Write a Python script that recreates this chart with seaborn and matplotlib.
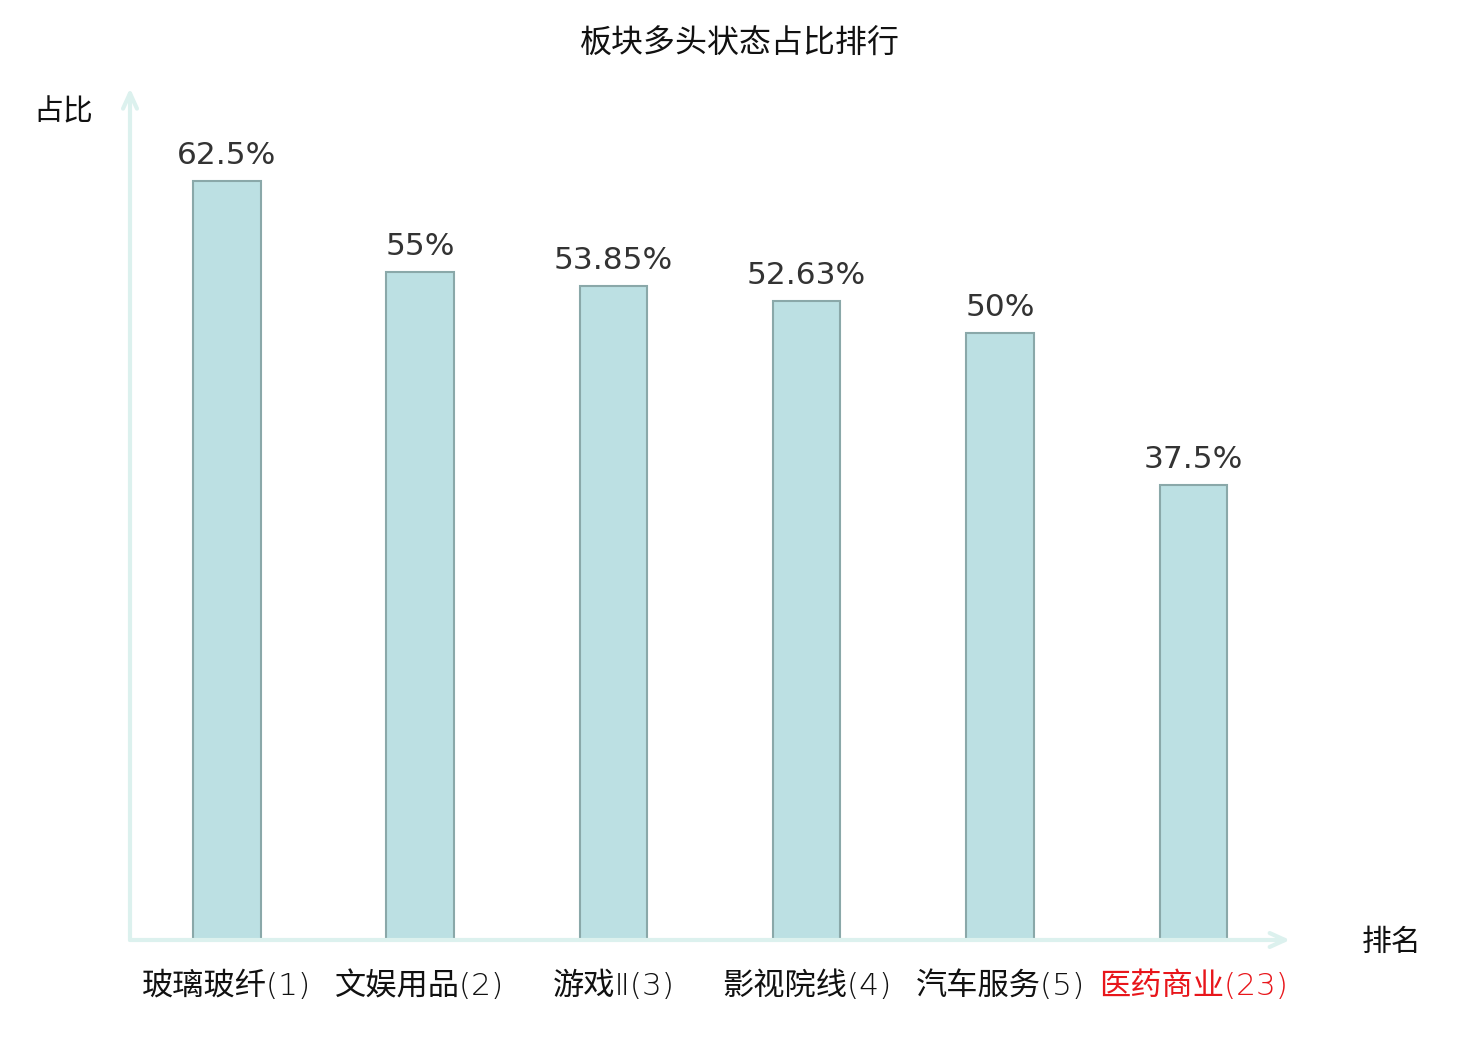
import numpy as np
import pandas as pd
import matplotlib
matplotlib.use('Agg')
import matplotlib.pyplot as plt
import seaborn as sns

# chart data
sectors = ['玻璃玻纤(1)', '文娱用品(2)', '游戏Ⅱ(3)', '影视院线(4)', '汽车服务(5)', '医药商业(23)']
ratios = [62.5, 55, 53.85, 52.63, 50, 37.5]
value_labels = ['62.5%', '55%', '53.85%', '52.63%', '50%', '37.5%']

df = pd.DataFrame({'sector': sectors, 'ratio': ratios})

sns.set_style('white')
plt.rcParams['font.family'] = ['Noto Sans CJK SC', 'DejaVu Sans']

fig = plt.figure(figsize=(14.8, 10.4), dpi=100)
ax = fig.add_axes([130 / 1480, 100 / 1040, 1160 / 1480, 850 / 1040])

sns.barplot(data=df, x='sector', y='ratio', color='#bce0e3', edgecolor='#8aa8a9',
            linewidth=1.5, width=0.35, saturation=1, ax=ax)

ax.set_xlim(-0.5, 5.5)
ax.set_ylim(0, 70)

for s in ax.spines.values():
    s.set_visible(False)
axis_col = '#dcf1ee'
arrow = dict(arrowstyle='->,head_length=1.1,head_width=0.5', color=axis_col, lw=3,
             shrinkA=0, shrinkB=0)
ax.annotate('', xy=(1, 0), xytext=(0, 0), xycoords='axes fraction', arrowprops=arrow)
ax.annotate('', xy=(0, 1.002), xytext=(0, 0), xycoords='axes fraction', arrowprops=arrow)

ax.set_yticks([])
ax.set_xlabel('')
ax.set_ylabel('')
ax.tick_params(axis='x', length=0, pad=22)
for i, t in enumerate(ax.get_xticklabels()):
    t.set_color('#e8161b' if i == len(sectors) - 1 else '#111111')
    t.set_fontsize(22.5)
    t.set_family(['DejaVu Sans', 'Noto Sans CJK SC'])
    t.set_fontweight('light')

for i, (v, lab) in enumerate(zip(ratios, value_labels)):
    ax.annotate(lab, (i, v), xytext=(0, 8), textcoords='offset points',
                ha='center', va='bottom', fontsize=22.5, color='#333333',
                family=['DejaVu Sans'])

fig.text(740 / 1480, 1 - 44 / 1040, '板块多头状态占比排行', ha='center', va='center',
         fontsize=23, color='#111111')
fig.text(63 / 1480, 1 - 112 / 1040, '占比', ha='center', va='center', fontsize=21.5, color='#111111')
fig.text(1392 / 1480, 1 - 942 / 1040, '排名', ha='center', va='center', fontsize=21.5, color='#111111')

fig.savefig('out.png', dpi=100, facecolor='white')
